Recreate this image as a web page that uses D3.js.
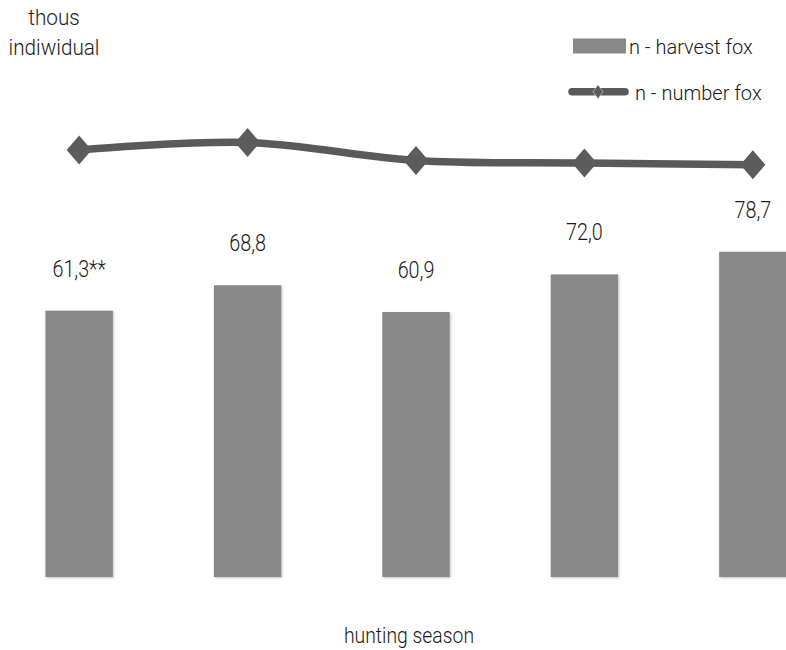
<!DOCTYPE html>
<html>
<head>
<meta charset="utf-8">
<script src="https://cdn.jsdelivr.net/npm/d3@7/dist/d3.min.js"></script>
<style>
  html, body { margin: 0; padding: 0; background: #fff; }
  svg { display: block; }
  text { font-family: Roboto, "Noto Sans", sans-serif; font-weight: 300; fill: #1a1a1a; }
</style>
</head>
<body>
<svg id="chart" width="786" height="650"></svg>
<script>
// Hunting seasons (five consecutive seasons)
const seasons = ["I", "II", "III", "IV", "V"];
// Foxes harvested per season, thousand individuals
const harvestFox = [61.3, 68.8, 60.9, 72.0, 78.7];
// Footnote marks attached to the value labels
const harvestNotes = ["**", "", "", "", ""];
// Estimated fox number per season, thousand individuals
const numberFox = [108.8, 111.0, 105.7, 104.9, 104.4];
// Legend entries
const legendItems = ["n - harvest fox", "n - number fox"];

const svg = d3.select("#chart");

const defs = svg.append("defs");
const shadow = defs.append("filter").attr("id", "soft").attr("x", "-10%").attr("y", "-10%")
  .attr("width", "130%").attr("height", "130%");
shadow.append("feDropShadow").attr("dx", 1).attr("dy", 1).attr("stdDeviation", 1.2)
  .attr("flood-color", "#000").attr("flood-opacity", 0.25);
const blur = defs.append("filter").attr("id", "blurEdge");
blur.append("feGaussianBlur").attr("stdDeviation", 0.6);

const x = d3.scaleBand().domain(seasons).range([0, 832])
  .paddingInner(0.6).paddingOuter(0.27);
const y = d3.scaleLinear().domain([-17.4, 120]).range([577, 112]);

const fmt = v => d3.format(".1f")(v).replace(".", ",");

// Bars: harvest
svg.append("g").selectAll("rect").data(seasons).join("rect")
  .attr("x", d => x(d))
  .attr("width", x.bandwidth())
  .attr("y", (d, i) => y(harvestFox[i]))
  .attr("height", (d, i) => y(y.domain()[0]) - y(harvestFox[i]))
  .attr("fill", "#888888")
  .attr("filter", "url(#soft)");

// Value labels above the bars
svg.append("g").selectAll("text").data(seasons).join("text")
  .attr("transform", (d, i) => `translate(${x(d) + x.bandwidth() / 2},${y(harvestFox[i]) - 34}) scale(0.86,1)`)
  .attr("text-anchor", "middle")
  .style("font-size", "23px")
  .text((d, i) => fmt(harvestFox[i]) + harvestNotes[i]);

// Line: fox number (smoothed)
const line = d3.line()
  .x((d, i) => x(seasons[i]) + x.bandwidth() / 2)
  .y(d => y(d))
  .curve(d3.curveCatmullRom.alpha(0.5));
svg.append("path").datum(numberFox)
  .attr("d", line)
  .attr("fill", "none")
  .attr("stroke", "#5a5a5a")
  .attr("stroke-width", 7.5);

const diamond = (hw, hh) => `M0,${-hh}L${hw},0L0,${hh}L${-hw},0Z`;
svg.append("g").selectAll("path").data(numberFox).join("path")
  .attr("transform", (d, i) => `translate(${x(seasons[i]) + x.bandwidth() / 2},${y(d)})`)
  .attr("d", diamond(12.5, 14.5))
  .attr("fill", "#5c5c5c")
  .attr("filter", "url(#blurEdge)");

// Axis titles
const yTitle = svg.append("g").attr("transform", "translate(54,0)");
yTitle.append("text").attr("transform", "translate(0,25) scale(0.92,1)")
  .attr("text-anchor", "middle").style("font-size", "22.5px").text("thous");
yTitle.append("text").attr("transform", "translate(0,55) scale(0.92,1)")
  .attr("text-anchor", "middle").style("font-size", "22.5px").text("indiwidual");

svg.append("text").attr("transform", "translate(409,643) scale(0.88,1)")
  .attr("text-anchor", "middle").style("font-size", "22px").text("hunting season");

// Legend
const lg = svg.append("g");
lg.append("rect").attr("x", 573).attr("y", 38.5).attr("width", 53).attr("height", 15)
  .attr("fill", "#888888");
lg.append("text").attr("x", 629).attr("y", 53.5).style("font-size", "20px").text(legendItems[0]);
lg.append("line").attr("x1", 572).attr("x2", 625).attr("y1", 91.7).attr("y2", 91.7)
  .attr("stroke", "#5a5a5a").attr("stroke-width", 7.5).attr("stroke-linecap", "round");
lg.append("path").attr("transform", "translate(598,91.7)").attr("d", diamond(5, 7))
  .attr("fill", "#5c5c5c").attr("stroke", "#ddd").attr("stroke-width", 1).attr("stroke-opacity", 0.6)
  .attr("filter", "url(#blurEdge)");
lg.append("text").attr("x", 635).attr("y", 100).style("font-size", "20px").text(legendItems[1]);
</script>
</body>
</html>
